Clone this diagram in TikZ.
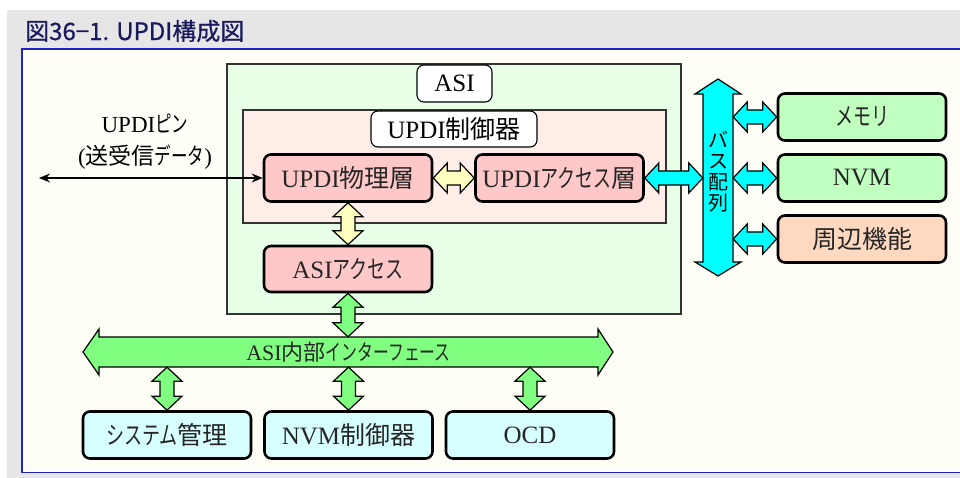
\documentclass[tikz,border=0pt]{standalone}
\usepackage{fontspec}
\usepackage{graphicx}
\setmainfont{Liberation Serif}
\newfontfamily\jp{Noto Sans CJK JP}
\newfontfamily\jptitle[FakeBold=0.7]{Noto Sans CJK JP}
\usetikzlibrary{positioning, calc, arrows.meta}

\definecolor{headgray}{HTML}{E6E6E6}
\definecolor{cream}{HTML}{FEFEF6}
\definecolor{frameblue}{HTML}{2020C8}
\definecolor{titleblue}{HTML}{1A1A5E}
\definecolor{asigreen}{HTML}{E6FFE6}
\definecolor{ctrlpink}{HTML}{FFEEE8}
\definecolor{boxpink}{HTML}{FFC8C8}
\definecolor{yel}{HTML}{FFFFC0}
\definecolor{buscyan}{HTML}{00FFFF}
\definecolor{igreen}{HTML}{80FF80}
\definecolor{memgreen}{HTML}{C0FFC0}
\definecolor{peach}{HTML}{FFD8C0}
\definecolor{lightcyan}{HTML}{D8FFFF}

\newcommand{\kana}[1]{\scalebox{0.72}[1]{\jp #1}}
\newcommand{\fatarrow}[3]{%
  \draw[fat=#1] #2 -- ($#2!14pt!#3!15pt!90:#3$) -- ($#2!14pt!#3!7pt!90:#3$)
    -- ($#3!14pt!#2!7pt!-90:#2$) -- ($#3!14pt!#2!15pt!-90:#2$) -- #3
    -- ($#3!14pt!#2!15pt!90:#2$) -- ($#3!14pt!#2!7pt!90:#2$)
    -- ($#2!14pt!#3!7pt!-90:#3$) -- ($#2!14pt!#3!15pt!-90:#3$) -- cycle;}

\begin{document}
\begin{tikzpicture}[x=1pt, y=-1pt, auto,
  fat/.style={draw=black, line width=1.2pt, fill=#1},
  box/.style={draw, line width=2.6pt, rounded corners=7pt, minimum width=168pt,
    minimum height=47pt, inner sep=0pt, text=black!85,
    font=\fontsize{25}{27}\selectfont},
  pinkbox/.style={box, fill=boxpink},
  rightbox/.style={box, fill=memgreen},
  lowbox/.style={box, fill=lightcyan},
  tag/.style={draw, line width=1.1pt, rounded corners=7pt, fill=white, inner sep=0pt,
    font=\fontsize{25}{27}\selectfont}]
  \useasboundingbox (0,0) rectangle (960,478);
  \fill[white] (0,0) rectangle (960,478);
  \fill[headgray] (7,10) rectangle (960,478);
  \draw[frameblue, line width=1.5pt, fill=cream] (22,49) rectangle (970,472.5);
  \node (title) [anchor=west, inner sep=0pt, text=titleblue, font=\fontsize{24}{26}\selectfont\jptitle] at (25,31) {図36−1. UPDI構成図};

  \draw[black!80, line width=1.2pt, fill=asigreen] (227,64) rectangle (681,314);
  \draw[black!80, line width=1.2pt, fill=ctrlpink] (243,110) rectangle (666,223);
  \node (asi) [tag, minimum width=75pt, minimum height=37pt] at (454.5,83.5) {ASI};
  \node (ctrl) [tag, minimum width=166pt, minimum height=36pt] at (454,129) {UPDI{\jp 制御器}};

  \node (phy) [pinkbox] at (348,178) {UPDI{\jp 物理層}};
  \node (acc) [pinkbox, right of=phy, node distance=211.5pt] {UPDI\kana{アクセス}{\jp 層}};
  \node (asiacc) [pinkbox, below of=phy, node distance=91pt, minimum height=46pt] {ASI\kana{アクセス}};

  \node (pinlbl) [align=center, font=\fontsize{23}{32}\selectfont] at (145,142) {UPDI\kana{ピン}\\({\jp 送受信}\kana{データ})};
  \coordinate (pin) at (39,178);
  \draw[{Stealth[length=11pt,width=9pt]}-{Stealth[length=11pt,width=9pt]}, line width=1.2pt] (pin) -- (phy.west);

  \draw[fat=buscyan] (718,79) -- (741,94) -- (733,94) -- (733,262) -- (741,262) -- (718,276)
    -- (695,262) -- (703,262) -- (703,94) -- (695,94) -- cycle;
  \node (bus) [minimum width=30pt, minimum height=168pt, inner sep=0pt, align=center,
    font=\fontsize{20}{21}\selectfont\jp] at (718,172) {バ\\ス\\配\\列};

  \node (mem) [rightbox] at (862,117) {\kana{メモリ}};
  \node (nvm) [rightbox, below of=mem, node distance=61pt] {NVM};
  \node (per) [box, fill=peach, below of=nvm, node distance=61pt] {{\jp 周辺機能}};

  \draw[fat=igreen] (83,352) -- (99,329) -- (99,337) -- (598,337) -- (598,329) -- (613,352)
    -- (598,375) -- (598,367) -- (99,367) -- (99,375) -- cycle;
  \node (iface) [minimum width=499pt, minimum height=30pt, inner sep=0pt, text=black!85,
    font=\fontsize{22}{24}\selectfont] at (348.5,352) {ASI{\jp 内部}\kana{インターフェース}};

  \node (sys) [lowbox] at (167,435) {\kana{システム}{\jp 管理}};
  \node (nvmc) [lowbox, right of=sys, node distance=181.5pt] {NVM{\jp 制御器}};
  \node (ocd) [lowbox, right of=nvmc, node distance=181.5pt] {OCD};

  \fatarrow{yel}{(phy.east)}{(acc.west)}
  \fatarrow{yel}{(phy.south)}{(asiacc.north)}
  \coordinate (accbus) at (acc.east -| bus.west);
  \fatarrow{buscyan}{(acc.east)}{(accbus)}
  \foreach \b in {mem, nvm, per} {
    \coordinate (\b bus) at (\b.west -| bus.east);
    \fatarrow{buscyan}{(\b bus)}{(\b.west)}
  }
  \coordinate (asiif) at (asiacc.south |- iface.north);
  \fatarrow{igreen}{(asiacc.south)}{(asiif)}
  \foreach \b in {sys, nvmc, ocd} {
    \coordinate (\b if) at (\b.north |- iface.south);
    \fatarrow{igreen}{(\b if)}{(\b.north)}
  }
\end{tikzpicture}
\end{document}
